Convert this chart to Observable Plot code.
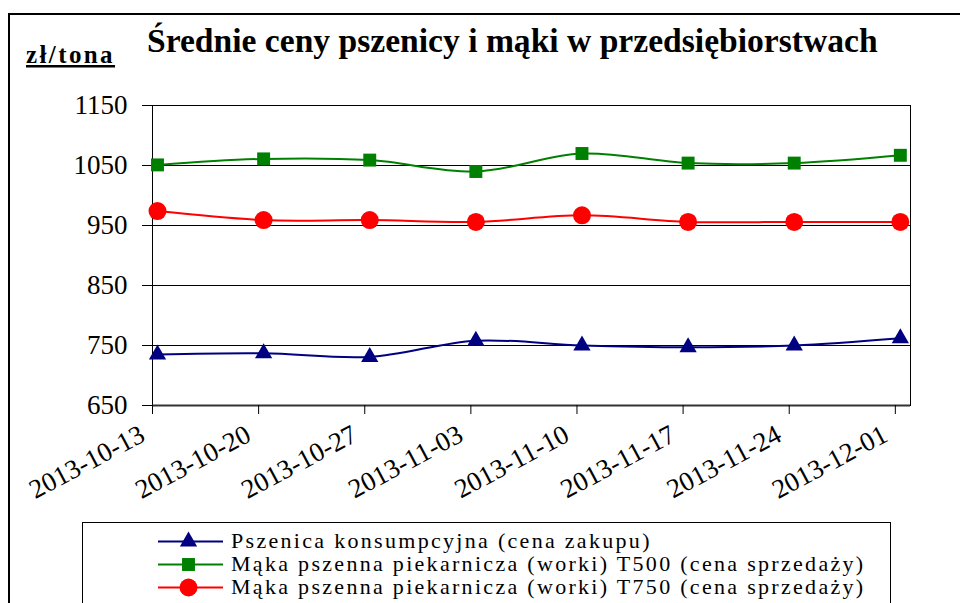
<!DOCTYPE html>
<html>
<head>
<meta charset="utf-8">
<script src="https://cdn.jsdelivr.net/npm/d3@7"></script>
<script src="https://cdn.jsdelivr.net/npm/@observablehq/plot@0.6"></script>
<style>
html, body { margin: 0; padding: 0; overflow: hidden; background: #fff; }
#wrap { position: relative; width: 960px; height: 603px; overflow: hidden; background: #fff; }
#wrap > svg { position: absolute; left: 0; top: 0; }
#overlay { pointer-events: none; }
</style>
</head>
<body>
<div id="wrap"></div>
<script>
// ---- data ----
const dates = ["2013-10-13", "2013-10-20", "2013-10-27", "2013-11-03", "2013-11-10", "2013-11-17", "2013-11-24", "2013-12-01"];
const pszenica = [735, 737, 731, 758, 750, 747, 750, 762];
const makaT500 = [1051, 1061, 1059, 1040, 1070, 1054, 1054, 1067];
const makaT750 = [974, 959, 959, 956, 967, 956, 956, 956];
const seriesNames = [
  "Pszenica konsumpcyjna (cena zakupu)",
  "Mąka pszenna piekarnicza (worki) T500 (cena sprzedaży)",
  "Mąka pszenna piekarnicza (worki) T750 (cena sprzedaży)"
];
const seriesColors = ["#000080", "#008000", "#ff0000"];
const seriesSymbols = ["triangle", "square", "circle"];
const seriesMarkerR = [6.4, 7.3, 9];
const yTicks = [650, 750, 850, 950, 1050, 1150];
const titleText = "Średnie ceny pszenicy i mąki w przedsiębiorstwach";
const unitText = "zł/tona";

const parse = d3.utcParse("%Y-%m-%d");
const xDates = dates.map(parse);
const seriesValues = [pszenica, makaT500, makaT750];
const tables = seriesValues.map((vals, i) =>
  vals.map((v, j) => ({series: seriesNames[i], date: xDates[j], value: v})));

const font = "'Liberation Serif', 'Times New Roman', serif";

const seriesMarks = [];
tables.forEach((t, i) => {
  seriesMarks.push(Plot.line(t, {x: "date", y: "value", stroke: seriesColors[i], strokeWidth: 2, curve: "catmull-rom", dx: 5}));
});
tables.forEach((t, i) => {
  seriesMarks.push(Plot.dot(t, {x: "date", y: "value", symbol: () => seriesSymbols[i], r: seriesMarkerR[i], fill: seriesColors[i], stroke: "none", dx: 5}));
});

const chart = Plot.plot({
  width: 960,
  height: 603,
  marginLeft: 152,
  marginRight: 50,
  marginTop: 105,
  marginBottom: 198,
  style: {fontFamily: font, fontSize: "27px", color: "#000", background: "transparent"},
  x: {type: "utc", domain: [xDates[0], d3.utcDay.offset(xDates[xDates.length - 1], 1)], label: null},
  y: {domain: [650, 1150], label: null},
  symbol: {domain: seriesSymbols, range: seriesSymbols},
  marks: [
    Plot.ruleY(yTicks, {stroke: "#000", strokeWidth: 1}),
    Plot.frame({stroke: "#000", strokeWidth: 1}),
    Plot.ruleY([650], {stroke: "#333", strokeWidth: 2}),
    Plot.axisY({ticks: yTicks, tickSize: 10, tickPadding: 15, tickFormat: d => String(d), label: null, stroke: "#000"}),
    Plot.axisX({ticks: xDates, tickSize: 9, tickFormat: () => "", label: null, stroke: "#000"}),
    Plot.axisX({ticks: xDates, tickFormat: d3.utcFormat("%Y-%m-%d"), tickSize: 0, tickRotate: -28, tickPadding: 27, dx: -10, textAnchor: "end", label: null}),
    ...seriesMarks
  ]
});
document.getElementById("wrap").appendChild(chart);

// ---- overlay: frame, title, unit label, legend ----
const ov = d3.select("#wrap").append("svg")
  .attr("id", "overlay")
  .attr("width", 960).attr("height", 603);

ov.append("rect")
  .attr("x", 9).attr("y", 14).attr("width", 1000).attr("height", 700)
  .attr("fill", "none").attr("stroke", "#000").attr("stroke-width", 2);

ov.append("text")
  .attr("x", 147).attr("y", 52)
  .attr("font-family", font).attr("font-weight", "bold").attr("font-size", 33.6)
  .attr("fill", "#000")
  .text(titleText);

ov.append("text")
  .attr("x", 26).attr("y", 63)
  .attr("font-family", font).attr("font-weight", "bold").attr("font-size", 25)
  .attr("letter-spacing", "2.4px")
  .attr("text-decoration", "underline")
  .attr("fill", "#000")
  .text(unitText);

ov.append("rect")
  .attr("x", 82.5).attr("y", 522.5).attr("width", 808).attr("height", 200)
  .attr("fill", "#fff").attr("stroke", "#000").attr("stroke-width", 1);

const rowBase = [547.5, 570.5, 593.5];
seriesNames.forEach((name, i) => {
  const cy = rowBase[i] - 6;
  const g = ov.append("g");
  g.append("line")
    .attr("x1", 158).attr("x2", 223).attr("y1", cy).attr("y2", cy)
    .attr("stroke", seriesColors[i]).attr("stroke-width", 2);
  const sym = {triangle: d3.symbolTriangle, square: d3.symbolSquare, circle: d3.symbolCircle}[seriesSymbols[i]];
  const r = seriesMarkerR[i];
  g.append("path")
    .attr("transform", `translate(188.5,${cy})`)
    .attr("d", d3.symbol(sym, r * r * Math.PI)())
    .attr("fill", seriesColors[i]);
  g.append("text")
    .attr("x", 231).attr("y", rowBase[i])
    .attr("font-family", font).attr("font-size", 22)
    .attr("letter-spacing", "2.3px")
    .attr("fill", "#000")
    .text(name);
});
</script>
</body>
</html>
